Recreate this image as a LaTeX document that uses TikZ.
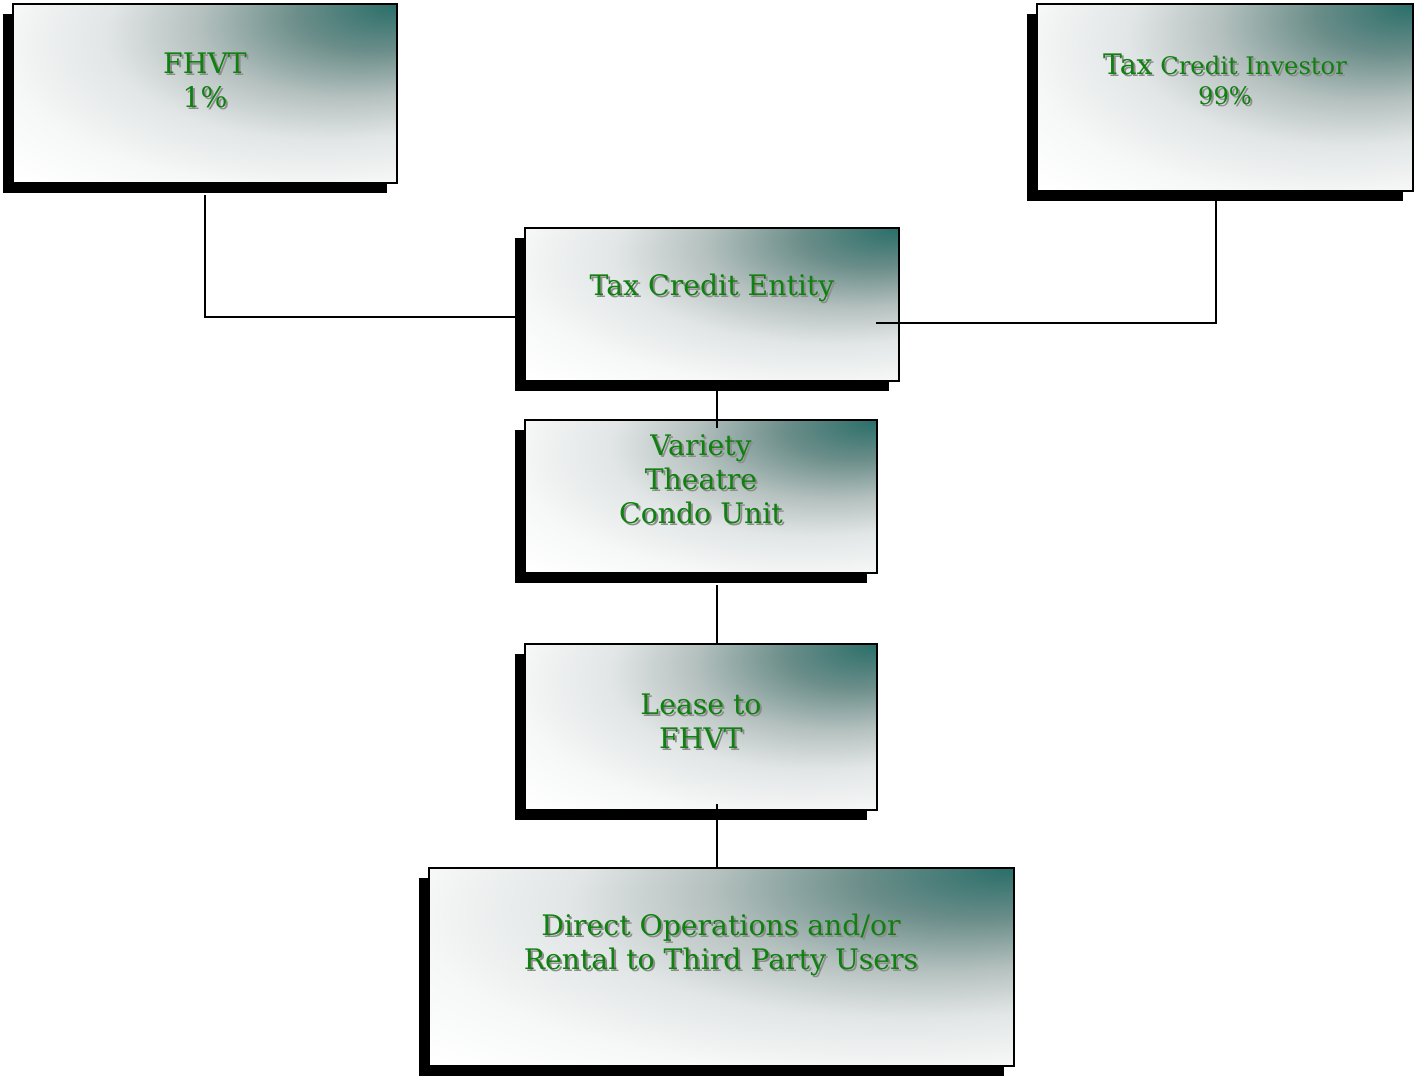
\documentclass[tikz,border=0pt]{standalone}
\usepackage{fontspec}
\setmainfont{DejaVu Serif}
\usetikzlibrary{shadows,calc}

\definecolor{boxteal}{RGB}{42,110,105}
\definecolor{boxdark}{RGB}{108,142,138}
\definecolor{boxgray}{RGB}{182,194,192}
\definecolor{boxlight}{RGB}{226,230,230}
\definecolor{boxpale}{RGB}{246,247,247}
\definecolor{labelgreen}{RGB}{16,128,16}
\definecolor{labelgray}{RGB}{140,140,140}
\pgfdeclareradialshading{boxfade}{\pgfpoint{25bp}{25bp}}{color(0bp)=(boxteal); color(10bp)=(boxdark);
  color(20bp)=(boxgray); color(29bp)=(boxlight); color(39bp)=(boxpale); color(48bp)=(white); color(80bp)=(white)}

\begin{document}
\begin{tikzpicture}
[x=1pt,y=-1pt,
 boxdecorate/.style={shape=rectangle,draw=black,line width=1.5pt,inner sep=0pt,outer sep=0pt,
   shading=boxfade,
   drop shadow={shadow xshift=-10pt,shadow yshift=-10pt,shadow scale=1,fill=black,opacity=1,draw=none}},
 labeldecorate/.style={align=center,inner sep=0pt,text=labelgreen,font=\fontsize{28.3}{34}\selectfont},
 labelshade/.style={labeldecorate,text=labelgray},
 linedecorate/.style={-,line width=1.6pt}]
\useasboundingbox (0,0) rectangle (1414,1076);
%% boxes
\foreach \boxname/\cx/\cy/\boxw/\boxh in {fhvt/205/93.5/384/179,
  inv/1225/97.5/376/187, entity/712/304.5/374/153, condo/701/496.5/352/153,
  lease/701/727/352/166, direct/721.5/967/585/198} {
  \node (\boxname) at (\cx,\cy) [boxdecorate,minimum width=\boxw pt,minimum height=\boxh pt] {};
}
%% labels
\foreach \labelname/\x/\y/\labeltext in {fhvt/205/80/{FHVT\\1\%},
  entity/712/288/{Tax Credit Entity}, condo/701/479/{Variety\\Theatre\\Condo Unit},
  lease/701/721/{Lease to\\FHVT},
  direct/721/945/{Direct Operations and/or\\Rental to Third Party Users}} {
  \node (\labelname-shade) at (\x+2,\y+2) [labelshade] {\labeltext};
  \node (\labelname-text) at (\x,\y) [labeldecorate] {\labeltext};
}
\node (inv-shade) at (1227,81) [labelshade,font=\fontsize{24.2}{30}\selectfont]
  {{\fontsize{28.3}{30}\selectfont Tax} Credit Investor\\99\%};
\node (inv-text) at (1225,79) [labeldecorate,font=\fontsize{24.2}{30}\selectfont]
  {{\fontsize{28.3}{30}\selectfont Tax} Credit Investor\\99\%};
%% connectors
\coordinate (spine) at (717,0);
\draw[linedecorate] ($(fhvt.south)+(0,12)$) |- ($(entity.west)+(-10,12.5)$);
\draw[linedecorate] ($(inv.south)+(-9,10)$) |- ($(entity.east)+(-23,18.5)$);
\draw[linedecorate] ($(entity.south -| spine)+(0,10)$) -- ($(condo.north -| spine)+(0,8)$);
\draw[linedecorate] ($(condo.south -| spine)+(0,12)$) -- (lease.north -| spine);
\draw[linedecorate] ($(lease.south -| spine)+(0,-6)$) -- (direct.north -| spine);
\end{tikzpicture}
\end{document}
